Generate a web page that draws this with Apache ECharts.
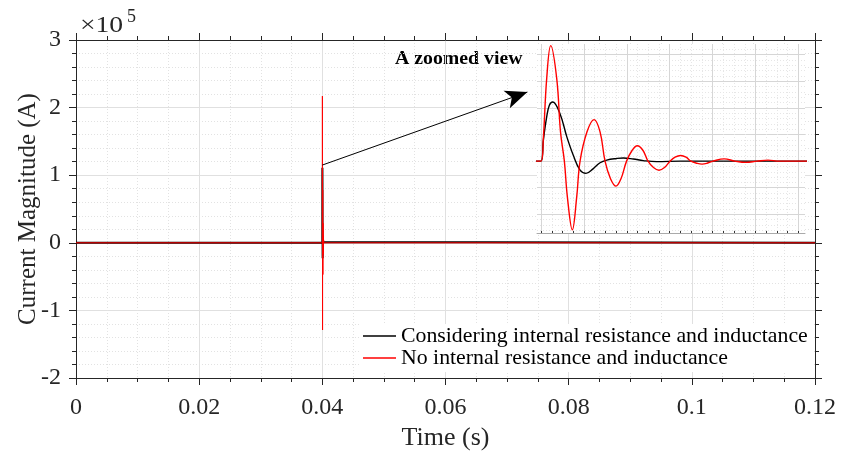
<!DOCTYPE html>
<html><head><meta charset="utf-8">
<script src="https://cdn.jsdelivr.net/npm/echarts@6/dist/echarts.min.js"></script>
<style>html,body{margin:0;padding:0;background:#fff}#c{width:842px;height:459px}</style>
</head><body><div id="c"></div>
<script>
// ---- data ----
const seriesNames = ['Considering internal resistance and inductance', 'No internal resistance and inductance'];
const xTickValues = [0, 0.02, 0.04, 0.06, 0.08, 0.1, 0.12];
const yTickValues = [-2e5, -1e5, 0, 1e5, 2e5, 3e5];
const simStart = 0;        // s
const simEnd = 0.12;       // s
const faultTime = 0.04;    // s
// offsets after the fault, in microseconds; currents in units of 1e5 A
const blackOffsetUs = [0, 2.7, 6.6, 9.7, 13.6, 22.1, 30.0, 37.6, 45.5, 52.4, 61.0, 68.8, 76.6, 88.2, 95.9, 107.6, 119.2, 134.8, 162.0];
const blackCurrent  = [0, 0.39, 0.83, 1.05, 1.11, 0.89, 0.46, 0.11, -0.17, -0.23, -0.14, -0.03, 0.02, 0.05, 0.06, 0.04, 0.01, -0.01, 0];
const redOffsetUs = [0, 2.7, 6.6, 11.3, 18.3, 22.7, 27.2, 30.7, 36.5, 41.6, 45.5, 53.6, 61.8, 68.8, 74.6, 81.0, 87.4, 93.2, 99.7, 106.1, 112.2, 118.9, 124.7, 131.1, 137.5, 143.9, 150.4, 156.2, 162.8, 169.0, 174.8, 181.8, 187.6, 193.5, 200.5, 213.6, 226.1, 238.9, 251.8, 264.6, 277.4];
const redCurrent  = [0, 0.43, 1.55, 2.17, 1.55, 0.55, 0, -0.67, -1.29, -0.67, 0, 0.55, 0.78, 0.55, 0, -0.33, -0.47, -0.33, 0, 0.2, 0.29, 0.2, 0, -0.12, -0.17, -0.12, 0, 0.075, 0.107, 0.075, 0, -0.04, -0.056, -0.04, 0, 0.043, 0, -0.024, 0, 0.019, 0];
// inset (zoomed view) window, microseconds after fault / units of 1e5 A
const insetXRangeUs = [-4.7, 307.7];
const insetYRange = [-1.35, 2.2];
const insetXMajorUs = [0, 50, 100, 150, 200, 250, 300];
const insetXMinorUs = [12.5, 25, 37.5, 62.5, 75, 87.5, 112.5, 125, 137.5, 162.5, 175, 187.5, 212.5, 225, 237.5, 262.5, 275, 287.5];
const insetYMajor = [-1, -0.5, 0, 0.5, 1, 1.5, 2];
const insetYMinor = [-1.3,-1.2,-1.1,-0.9,-0.8,-0.7,-0.6,-0.4,-0.3,-0.2,-0.1,0.1,0.2,0.3,0.4,0.6,0.7,0.8,0.9,1.1,1.2,1.3,1.4,1.6,1.7,1.8,1.9,2.1];
// arrow annotation (data coords of main axes)
const arrowFrom = [0.04, 1.15e5];
const arrowTo = [0.0733, 2.23e5];

// ---- build ----
const us = v => faultTime + v * 1e-6;
function build(offs, cur) {
  const d = [[simStart, 0]];
  offs.forEach((o, i) => d.push([us(o), cur[i] * 1e5]));
  d.push([simEnd, 0]);
  return d;
}
const blackData = build(blackOffsetUs, blackCurrent);
const redData = build(redOffsetUs, redCurrent);

const FONT = '"Liberation Serif", "Times New Roman", serif';
const TXT = '#262626';
const majorGrid = {show: true, lineStyle: {color: '#e0e0e0', width: 1}};
const minorGrid = {show: true, lineStyle: {color: '#e2e2e2', width: 1, type: [1, 2]}};
const axisLine = {show: true, onZero: false, lineStyle: {color: TXT, width: 1}};
const tick = {show: true, length: 7, lineStyle: {color: TXT}};

const chart = echarts.init(document.getElementById('c'), null, {renderer: 'canvas'});
chart.setOption({
  animation: false,
  backgroundColor: '#fff',
  grid: [
    {left: 76, right: 27, top: 40, bottom: 81, outerBoundsMode: 'none', containLabel: false},
    {left: 537, width: 268, top: 44, height: 189, show: true, backgroundColor: '#fff', borderWidth: 0, z: 3, outerBoundsMode: 'none', containLabel: false}
  ],
  legend: {
    data: seriesNames, orient: 'vertical', left: 359, top: 324,
    backgroundColor: '#fff', padding: [1, 6, 3, 4], itemGap: 0,
    icon: 'rect', itemWidth: 33, itemHeight: 1.3,
    textStyle: {fontFamily: FONT, fontSize: 21.8, color: '#000', lineHeight: 22}
  },
  xAxis: [
    {type: 'value', gridIndex: 0, min: xTickValues[0], max: xTickValues[xTickValues.length - 1], interval: 0.02,
     name: 'Time (s)', nameLocation: 'middle', nameGap: 47, nameMoveOverlap: false,
     nameTextStyle: {fontFamily: FONT, fontSize: 26, color: TXT},
     axisLine, axisTick: tick, minorTick: {show: true, splitNumber: 4, length: 4, lineStyle: {color: TXT}},
     axisLabel: {fontFamily: FONT, fontSize: 24, color: TXT, margin: 18, formatter: v => String(+v.toFixed(2))},
     splitLine: majorGrid, minorSplitLine: minorGrid},
    {type: 'value', gridIndex: 0, position: 'top', min: xTickValues[0], max: xTickValues[xTickValues.length - 1], interval: 0.02,
     axisLine, axisTick: tick, minorTick: {show: true, splitNumber: 4, length: 4, lineStyle: {color: TXT}},
     axisLabel: {show: false}, splitLine: {show: false}},
    {type: 'value', gridIndex: 1, position: 'bottom', min: us(insetXRangeUs[0]), max: us(insetXRangeUs[1]), z: 4,
     axisLine: {show: true, onZero: false, lineStyle: {color: '#aaa', width: 1}},
     axisTick: {show: true, inside: true, length: 2, lineStyle: {color: '#333'}, customValues: insetXMajorUs.map(us)},
     axisLabel: {show: false, customValues: insetXMajorUs.map(us)},
     splitLine: {show: true, lineStyle: {color: '#d6d6d6', width: 1}}},
    {type: 'value', gridIndex: 1, position: 'bottom', min: us(insetXRangeUs[0]), max: us(insetXRangeUs[1]), z: 4,
     axisLine: {show: false, onZero: false},
     axisTick: {show: true, inside: true, length: 2, lineStyle: {color: '#333'}, customValues: insetXMinorUs.map(us)},
     axisLabel: {show: false, customValues: insetXMinorUs.map(us)},
     splitLine: {show: true, lineStyle: {color: '#e6e6e6', width: 1, type: [1, 2]}}}
  ],
  yAxis: [
    {type: 'value', gridIndex: 0, min: yTickValues[0], max: yTickValues[yTickValues.length - 1], interval: 1e5,
     name: 'Current Magnitude (A)', nameLocation: 'middle', nameGap: 35, nameMoveOverlap: false,
     nameTextStyle: {fontFamily: FONT, fontSize: 25, color: TXT},
     axisLine, axisTick: tick, minorTick: {show: true, splitNumber: 5, length: 4, lineStyle: {color: TXT}},
     axisLabel: {fontFamily: FONT, fontSize: 24, color: TXT, margin: 15, formatter: v => String(v / 1e5)},
     splitLine: majorGrid, minorSplitLine: minorGrid},
    {type: 'value', gridIndex: 0, position: 'right', min: yTickValues[0], max: yTickValues[yTickValues.length - 1], interval: 1e5,
     axisLine, axisTick: tick, minorTick: {show: true, splitNumber: 5, length: 4, lineStyle: {color: TXT}},
     axisLabel: {show: false}, splitLine: {show: false}},
    {type: 'value', gridIndex: 1, position: 'left', min: insetYRange[0] * 1e5, max: insetYRange[1] * 1e5, z: 4,
     axisLine: {show: false, onZero: false},
     axisTick: {show: false, customValues: insetYMajor.map(v => v * 1e5)},
     axisLabel: {show: false, customValues: insetYMajor.map(v => v * 1e5)},
     splitLine: {show: true, lineStyle: {color: '#d6d6d6', width: 1}}},
    {type: 'value', gridIndex: 1, position: 'left', min: insetYRange[0] * 1e5, max: insetYRange[1] * 1e5, z: 4,
     axisLine: {show: false, onZero: false},
     axisTick: {show: false, customValues: insetYMinor.map(v => v * 1e5)},
     axisLabel: {show: false, customValues: insetYMinor.map(v => v * 1e5)},
     splitLine: {show: true, lineStyle: {color: '#e6e6e6', width: 1, type: [1, 2]}}}
  ],
  series: [
    {name: seriesNames[0], type: 'line', xAxisIndex: 0, yAxisIndex: 0, data: blackData, showSymbol: false,
     lineStyle: {color: '#000', width: 2}, itemStyle: {color: '#000'}, z: 2,
     markLine: {silent: true, symbol: ['none', 'arrow'], symbolSize: [14, 22], label: {show: false},
       lineStyle: {color: '#000', width: 1, type: 'solid'},
       data: [[{coord: arrowFrom}, {coord: arrowTo}]]}},
    {name: seriesNames[1], type: 'line', xAxisIndex: 0, yAxisIndex: 0, data: redData, showSymbol: false,
     lineStyle: {color: '#ff0000', width: 1}, itemStyle: {color: '#ff0000'}, z: 2},
    {name: seriesNames[0], type: 'line', xAxisIndex: 2, yAxisIndex: 2, data: blackData, showSymbol: false, smooth: 0.4,
     lineStyle: {color: '#000', width: 1.4}, itemStyle: {color: '#000'}, z: 5, clip: true},
    {name: seriesNames[1], type: 'line', xAxisIndex: 2, yAxisIndex: 2, data: redData, showSymbol: false, smooth: 0.4,
     lineStyle: {color: '#ff0000', width: 1.4}, itemStyle: {color: '#ff0000'}, z: 6, clip: true}
  ],
  graphic: [
    {type: 'text', left: 80, top: 14, scaleX: 1.15, style: {text: '×10', font: '24px ' + FONT, fill: TXT}},
    {type: 'text', left: 127, top: 8, style: {text: '5', font: '18px ' + FONT, fill: TXT}},
    {type: 'text', left: 395, top: 50, scaleX: 1.1, style: {text: 'A zoomed view', font: 'bold 18px ' + FONT, fill: '#000'}}
  ]
});
</script>
</body></html>
